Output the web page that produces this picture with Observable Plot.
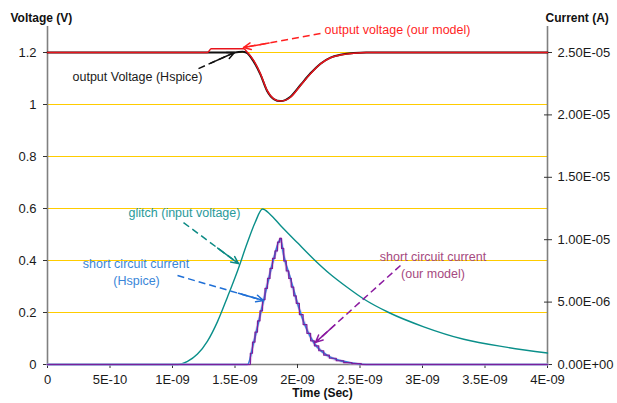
<!DOCTYPE html>
<html>
<head>
<meta charset="utf-8">
<script src="https://cdn.jsdelivr.net/npm/d3@7"></script>
<script src="https://cdn.jsdelivr.net/npm/@observablehq/plot@0.6"></script>
<style>
  html, body { margin: 0; padding: 0; background: #fff; }
</style>
</head>
<body>
<div id="chart"></div>
<script>
// ---- ticks ----
const timeTicks = [0, 0.5, 1, 1.5, 2, 2.5, 3, 3.5, 4]; // ns
const timeLabels = ["0", "5E-10", "1E-09", "1.5E-09", "2E-09", "2.5E-09", "3E-09", "3.5E-09", "4E-09"];
const voltTicks = [0, 0.2, 0.4, 0.6, 0.8, 1, 1.2];
const voltLabels = ["0", "0.2", "0.4", "0.6", "0.8", "1", "1.2"];
const gridVolts = [0.2, 0.4, 0.6, 0.8, 1, 1.2];
const currentTicks = [0, 5e-6, 1e-5, 1.5e-5, 2e-5, 2.5e-5];
const currentLabels = ["0.00E+00", "5.00E-06", "1.00E-05", "1.50E-05", "2.00E-05", "2.50E-05"];
// right axis alignment: 2.5E-05 A sits at 1.2 V
const ampToVolt = 1.2 / 2.5e-5;

// ---- series (time in ns) ----
const outHspiceT = [0, 1.5, 1.56, 1.59, 1.65, 1.704, 1.757, 1.81, 1.864, 1.944, 2.024, 2.104, 2.184, 2.264, 2.344, 2.45, 2.55, 4];
const outHspiceV = [1.2, 1.2, 1.203, 1.2, 1.165, 1.115, 1.052, 1.021, 1.013, 1.03, 1.075, 1.12, 1.157, 1.18, 1.191, 1.198, 1.2, 1.2];

const outModelT = [0, 1.28, 1.31, 1.57, 1.6, 1.65, 1.704, 1.757, 1.81, 1.864, 1.944, 2.024, 2.104, 2.184, 2.264, 2.344, 2.45, 2.55, 4];
const outModelV = [1.2, 1.2, 1.214, 1.214, 1.2, 1.169, 1.118, 1.054, 1.022, 1.013, 1.028, 1.073, 1.118, 1.156, 1.18, 1.19, 1.197, 1.2, 1.2];

const glitchT = [0, 1.04, 1.12, 1.2, 1.28, 1.36, 1.44, 1.52, 1.6, 1.66, 1.72, 1.78, 1.864, 2.0, 2.13, 2.26, 2.397, 2.53, 2.73, 3.01, 3.33, 3.68, 4];
const glitchV = [0, 0, 0.012, 0.04, 0.09, 0.165, 0.26, 0.36, 0.47, 0.545, 0.598, 0.578, 0.535, 0.468, 0.405, 0.348, 0.297, 0.252, 0.2, 0.145, 0.097, 0.066, 0.044];

const scHspiceT = [0, 1.6, 1.65, 1.704, 1.757, 1.81, 1.864, 1.89, 1.944, 1.997, 2.05, 2.104, 2.157, 2.237, 2.344, 2.45, 2.55, 4];
const scHspiceI = [0, 0, 1.79e-6, 4.08e-6, 6.33e-6, 8.5e-6, 1.006e-5, 8.73e-6, 6.88e-6, 5.0e-6, 3.4e-6, 2.19e-6, 1.4e-6, 7.3e-7, 3.1e-7, 1e-7, 0, 0];

const scModelT = [0, 1.616, 1.63, 1.65, 1.67, 1.69, 1.71, 1.73, 1.75, 1.77, 1.79, 1.81, 1.83, 1.85, 1.865, 1.88, 1.9, 1.92, 1.94, 1.96, 1.98, 2.0, 2.03, 2.06, 2.09, 2.12, 2.15, 2.19, 2.23, 2.28, 2.34, 2.4, 2.47, 2.55, 4];
const scModelI = [0, 0, 0.9e-6, 1.8e-6, 2.6e-6, 3.5e-6, 4.3e-6, 5.2e-6, 6.1e-6, 6.9e-6, 7.7e-6, 8.5e-6, 9.1e-6, 9.8e-6, 1.01e-5, 9.3e-6, 8.3e-6, 7.5e-6, 6.9e-6, 6.2e-6, 5.5e-6, 4.9e-6, 4.0e-6, 3.2e-6, 2.5e-6, 1.9e-6, 1.5e-6, 1.1e-6, 0.75e-6, 0.5e-6, 0.3e-6, 0.15e-6, 0.07e-6, 0, 0];

// ---- annotations ----
const annText = ["output voltage (our model)", "output Voltage (Hspice)", "glitch (input voltage)", "short circuit current", "(Hspice)", "short circuit current", "(our model)"];
const annT = [2.8, 0.72, 1.096, 0.708, 0.712, 3.084, 3.084];
const annV = [1.288, 1.105, 0.581, 0.388, 0.323, 0.415, 0.35];
const annColor = ["#ff1f1f", "#1a1a1a", "#2a9a9a", "#3a86d8", "#3a86d8", "#a64a80", "#a64a80"];

const arrFromT = [2.184, 1.208, 1.088, 1.04, 2.824];
const arrFromV = [1.273, 1.138, 0.546, 0.342, 0.381];
const arrToT = [1.568, 1.496, 1.528, 1.728, 2.144];
const arrToV = [1.219, 1.2, 0.388, 0.246, 0.085];
const arrColor = ["#ff2020", "#111111", "#0b8a84", "#1f6fd6", "#8b1aa0"];

// ---- build tables ----
const zip = (t, v) => t.map((d, i) => ({t: d, v: v[i]}));
const outHspice = zip(outHspiceT, outHspiceV);
const outModel = zip(outModelT, outModelV);
const glitch = zip(glitchT, glitchV);
const scHspice = zip(scHspiceT, scHspiceI.map(i => i * ampToVolt));
const scModel = zip(scModelT, scModelI.map(i => i * ampToVolt));
const ann = annText.map((s, i) => ({s, t: annT[i], v: annV[i], c: annColor[i]}));
const arrows = arrFromT.map((d, i) => ({t1: d, v1: arrFromV[i], t2: arrToT[i], v2: arrToV[i], c: arrColor[i]}));
const currentPos = currentTicks.map(i => i * ampToVolt);

const fmtFrom = (ticks, labels) => d => { const k = ticks.findIndex(x => Math.abs(x - d) < 1e-9); return k >= 0 ? labels[k] : ""; };

const axisGray = "#808080";

function makePlot(heads) {
  return Plot.plot({
    width: 617,
    height: 403,
    marginLeft: 47,
    marginRight: 70,
    marginTop: 26,
    marginBottom: 39,
    style: {fontFamily: "'Liberation Sans', Arial, sans-serif", fontSize: "13px", color: "#1a1a1a", background: "#fff"},
    x: {domain: [0, 4]},
    y: {domain: [0, 1.3]},
    marks: [
      Plot.ruleY(gridVolts, {stroke: "#ffcc00", strokeWidth: 1.2}),
      Plot.ruleX([0], {stroke: axisGray, strokeWidth: 1.6}),
      Plot.ruleX([4], {stroke: axisGray, strokeWidth: 1.6}),
      Plot.ruleY([0], {stroke: axisGray, strokeWidth: 1.6}),
      Plot.axisX(timeTicks, {anchor: "bottom", tickSize: 4, tickPadding: 6, label: null, tickFormat: fmtFrom(timeTicks, timeLabels), stroke: "#333"}),
      Plot.axisY(voltTicks, {anchor: "left", tickSize: 4, tickPadding: 7, label: null, tickFormat: fmtFrom(voltTicks, voltLabels), stroke: "#333"}),
      Plot.axisY(currentPos, {anchor: "right", tickSize: 8, dx: -4, tickPadding: 6, label: null, tickFormat: fmtFrom(currentPos, currentLabels), stroke: "#333"}),
      Plot.line(glitch, {x: "t", y: "v", stroke: "#0a8f8a", strokeWidth: 1.4, curve: "monotone-x"}),
      Plot.line(outHspice, {x: "t", y: "v", stroke: "#111", strokeWidth: 2, curve: "monotone-x"}),
      Plot.line(outModel, {x: "t", y: "v", stroke: "#e8141c", strokeWidth: 1.5, curve: "monotone-x"}),
      Plot.line(scModel, {x: "t", y: "v", stroke: "#d9a3dc", strokeWidth: 3, strokeOpacity: 0.6, curve: "monotone-x"}),
      Plot.line(scHspice, {x: "t", y: "v", stroke: "#2f80dc", strokeWidth: 1.6, curve: "monotone-x"}),
      Plot.line(scModel, {x: "t", y: "v", stroke: "#7a1f9c", strokeWidth: 1.2, curve: "step"}),
      Plot.link(arrows, {x1: "t1", y1: "v1", x2: "t2", y2: "v2", stroke: "c", strokeWidth: 1.5, strokeDasharray: "7,4"}),
      Plot.arrow(heads, {x1: "t1", y1: "v1", x2: "t2", y2: "v2", stroke: "c", strokeWidth: 1.5, headLength: 8, headAngle: 50}),
      Plot.text(ann, {x: "t", y: "v", text: "s", fill: "c", fontSize: 12.5}),
      Plot.text(["Voltage (V)"], {frameAnchor: "top-left", dx: -37, dy: -13, textAnchor: "start", fontWeight: "bold", fontSize: 12, fill: "#111"}),
      Plot.text(["Current (A)"], {frameAnchor: "top-right", dx: -2, dy: -13, textAnchor: "start", fontWeight: "bold", fontSize: 12, fill: "#111"}),
      Plot.text(["Time (Sec)"], {frameAnchor: "bottom", dx: 25, dy: 32, fontWeight: "bold", fontSize: 12, fill: "#111"})
    ]
  });
}

const probe = makePlot([]);
const sx = probe.scale("x"), sy = probe.scale("y");
const heads = arrows.map(a => {
  const x1 = sx.apply(a.t1), y1 = sy.apply(a.v1), x2 = sx.apply(a.t2), y2 = sy.apply(a.v2);
  const L = Math.hypot(x2 - x1, y2 - y1);
  const f = Math.min(1, 26 / L);
  return {t1: sx.invert(x2 + (x1 - x2) * f), v1: sy.invert(y2 + (y1 - y2) * f), t2: a.t2, v2: a.v2, c: a.c};
});
document.getElementById("chart").appendChild(makePlot(heads));
</script>
</body>
</html>
